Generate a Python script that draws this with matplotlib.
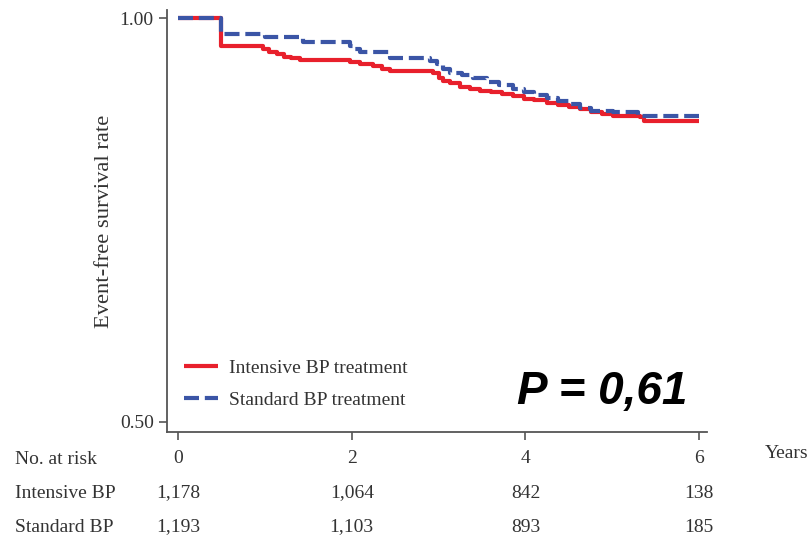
import numpy as np
import matplotlib.pyplot as plt
import matplotlib.transforms as mtransforms

# Kaplan-Meier step points (years, survival)
intensive_t = [0, 0.5, 0.98, 1.05, 1.14, 1.22, 1.3, 1.4, 1.98, 2.1, 2.25, 2.35, 2.44,
               2.94, 3.0, 3.05, 3.13, 3.25, 3.36, 3.48, 3.6, 3.73, 3.86, 3.98, 4.1,
               4.25, 4.38, 4.5, 4.63, 4.75, 4.88, 5.01, 5.32, 5.36, 6.0]
intensive_s = [1.0, 0.966, 0.962, 0.958, 0.955, 0.952, 0.950, 0.948, 0.946, 0.943, 0.940,
               0.937, 0.934, 0.932, 0.926, 0.922, 0.919, 0.915, 0.912, 0.910, 0.908,
               0.906, 0.903, 0.900, 0.898, 0.895, 0.892, 0.890, 0.887, 0.884, 0.881,
               0.879, 0.878, 0.873, 0.873]

standard_t = [0, 0.5, 1.0, 1.15, 1.44, 1.98, 2.03, 2.1, 2.44, 2.9, 2.98, 3.05, 3.13,
              3.27, 3.4, 3.56, 3.7, 3.86, 3.98, 4.1, 4.25, 4.38, 4.52, 4.63, 4.75,
              5.01, 5.3, 6.0]
standard_s = [1.0, 0.980, 0.977, 0.976, 0.970, 0.966, 0.962, 0.958, 0.950, 0.947, 0.943,
              0.937, 0.932, 0.929, 0.926, 0.921, 0.917, 0.912, 0.908, 0.905, 0.901,
              0.897, 0.893, 0.889, 0.885, 0.883, 0.879, 0.879]

risk_times = [0, 2, 4, 6]
risk_intensive = ["1,178", "1,064", "842", "138"]
risk_standard = ["1,193", "1,103", "893", "185"]

red = "#e8202c"
blue = "#3b55a6"
txt = "#333333"

plt.rcParams['font.family'] = ['Liberation Serif', 'DejaVu Serif']

fig = plt.figure(figsize=(8.12, 5.37), dpi=100)
ax = fig.add_axes([167 / 812, 1 - 432 / 537, 540 / 812, 422 / 537])

ax.plot(intensive_t, intensive_s, drawstyle='steps-post', color=red, lw=3,
        label="Intensive BP treatment", solid_capstyle='butt')
ax.plot(standard_t, standard_s, drawstyle='steps-post', color=blue, lw=3,
        dashes=(3.6, 1.4), label="Standard BP treatment")

ax.set_xlim(-0.127, 6.09)
ax.set_ylim(0.487, 1.01)
ax.set_yticks([0.5, 1.0])
ax.set_yticklabels(["0.50", "1.00"])
ax.set_xticks(risk_times)
ax.set_xticklabels([str(t) for t in risk_times])
ax.tick_params(axis='both', colors="#555555", labelcolor=txt, labelsize=14,
               length=6, width=1.2)
ax.tick_params(axis='x', pad=7)
for s in ['top', 'right']:
    ax.spines[s].set_visible(False)
for s in ['left', 'bottom']:
    ax.spines[s].set_color("#555555")
    ax.spines[s].set_linewidth(1.3)

ax.set_ylabel("Event-free survival rate", fontsize=16.2, color=txt, labelpad=4)

ax.legend(loc='lower left', bbox_to_anchor=(0.0, 0.013), frameon=False,
          fontsize=14, handlelength=1.7, handletextpad=0.6, labelspacing=0.75,
          labelcolor=txt)

ax.text(0.805, 0.095, "P = 0,61", transform=ax.transAxes, ha='center', va='center',
        fontsize=33, fontweight='bold', fontstyle='italic', family='Liberation Sans',
        color='black')

fig.text(765 / 812, 1 - 453 / 537, "Years", fontsize=14, color=txt, va='center')
fig.text(15 / 812, 1 - 460 / 537, "No. at risk", fontsize=14, color=txt, va='center')

trans = mtransforms.blended_transform_factory(ax.transData, fig.transFigure)
rows = [("Intensive BP", risk_intensive, 1 - 493 / 537),
        ("Standard BP", risk_standard, 1 - 527 / 537)]
for label, vals, y in rows:
    fig.text(15 / 812, y, label, fontsize=14, color=txt, va='center')
    for t, v in zip(risk_times, vals):
        ax.text(t, y, v, transform=trans, ha='center', va='center',
                fontsize=14, color=txt, clip_on=False)

fig.savefig("out.png", dpi=100)
